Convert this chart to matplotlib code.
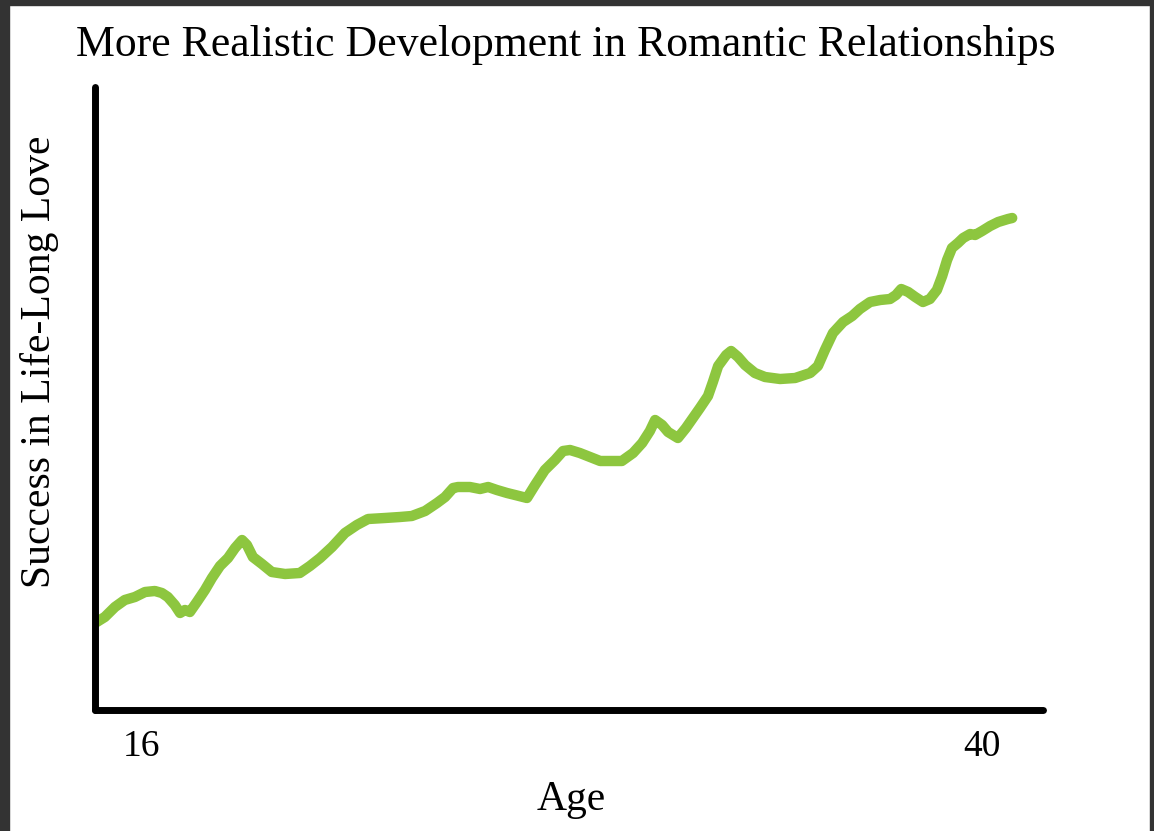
import matplotlib

matplotlib.use("Agg")

import matplotlib.pyplot as plt
from matplotlib.patches import Rectangle

# hand-drawn curve (age, success)
ages = [
    14.71, 14.94, 15.23, 15.51, 15.80, 16.09, 16.37, 16.57, 16.74, 16.94,
    17.09, 17.23, 17.37, 17.57, 17.80, 18.00, 18.23, 18.46, 18.66, 18.86,
    19.00, 19.17, 19.43, 19.71, 20.09, 20.51, 20.80, 21.09, 21.43, 21.80,
    22.14, 22.46, 22.94, 23.37, 23.71, 24.09, 24.43, 24.66, 24.89, 25.03,
    25.37, 25.66, 25.89, 26.14, 26.43, 26.66, 27.00, 27.23, 27.51, 27.80,
    28.03, 28.23, 28.51, 28.80, 29.09, 29.37, 29.71, 30.03, 30.29, 30.51,
    30.66, 30.86, 31.03, 31.31, 31.54, 31.74, 31.94, 32.17, 32.31, 32.46,
    32.69, 32.83, 33.03, 33.23, 33.51, 33.80, 34.23, 34.66, 35.09, 35.31,
    35.51, 35.74, 36.03, 36.29, 36.51, 36.80, 37.09, 37.37, 37.54, 37.69,
    37.89, 38.09, 38.31, 38.51, 38.71, 38.86, 39.00, 39.14, 39.31, 39.46,
    39.66, 39.80, 40.00, 40.23, 40.46, 40.74, 40.86,
]
success = [
    88, 93, 103, 110, 113, 118, 119, 117, 113, 105,
    97, 100, 98, 108, 120, 132, 144, 152, 162, 170,
    165, 153, 146, 138, 136, 137, 144, 152, 163, 177,
    185, 191, 192, 193, 194, 199, 207, 213, 222, 223,
    223, 221, 223, 220, 217, 215, 212, 225, 240, 250,
    259, 260, 257, 253, 249, 249, 249, 257, 267, 279,
    290, 285, 278, 272, 282, 292, 302, 314, 328, 344,
    355, 359, 353, 345, 337, 333, 331, 332, 337, 344,
    360, 377, 388, 394, 401, 408, 410, 411, 415, 421,
    418, 413, 408, 411, 420, 434, 450, 462, 467, 472,
    476, 475, 479, 484, 488, 491, 492,
]
tick_ages = [16, 40]
tick_labels = ["16", "40"]

SERIF = ["Liberation Serif", "DejaVu Serif"]
W, H = 1154, 831

fig = plt.figure(figsize=(W / 100, H / 100), dpi=100)
fig.patch.set_facecolor("white")

# dark screenshot frame on top, left and right
frame = "#333333"
fig.patches.append(Rectangle((0, 1 - 5 / H), 1, 5 / H, transform=fig.transFigure, color=frame, zorder=0))
fig.patches.append(Rectangle((0, 0), 9 / W, 1, transform=fig.transFigure, color=frame, zorder=0))
fig.patches.append(Rectangle((1 - 4 / W, 0), 4 / W, 1, transform=fig.transFigure, color=frame, zorder=0))

ax = fig.add_axes([95 / W, (H - 710) / H, (1043 - 95) / W, (710 - 87) / H])
ax.plot(ages, success, color="#8dc63f", linewidth=7.5, solid_capstyle="round", solid_joinstyle="round")

ax.set_xlim(14.66, 41.74)
ax.set_ylim(0, 623)
ax.set_yticks([])
ax.set_xticks(tick_ages)
ax.set_xticklabels(tick_labels, family=SERIF, fontsize=27)
ax.tick_params(axis="x", length=0, pad=14)

for side in ("top", "right"):
    ax.spines[side].set_visible(False)
for side in ("left", "bottom"):
    ax.spines[side].set_linewidth(5)
    ax.spines[side].set_color("black")
    ax.spines[side].set_capstyle("round")

ax.set_xlabel("Age", family=SERIF, fontsize=30, va="center")
ax.xaxis.set_label_coords((571 - 95) / 948, (710 - 800) / 623)
ax.set_ylabel("Success in Life-Long Love", family=SERIF, fontsize=30, va="center")
ax.yaxis.set_label_coords((40 - 95) / 948, (710 - 362) / 623)
fig.text(0.49, 1 - 45 / H, "More Realistic Development in Romantic Relationships",
         family=SERIF, fontsize=31.5, ha="center", va="center")

fig.savefig("out.png", dpi=100)
